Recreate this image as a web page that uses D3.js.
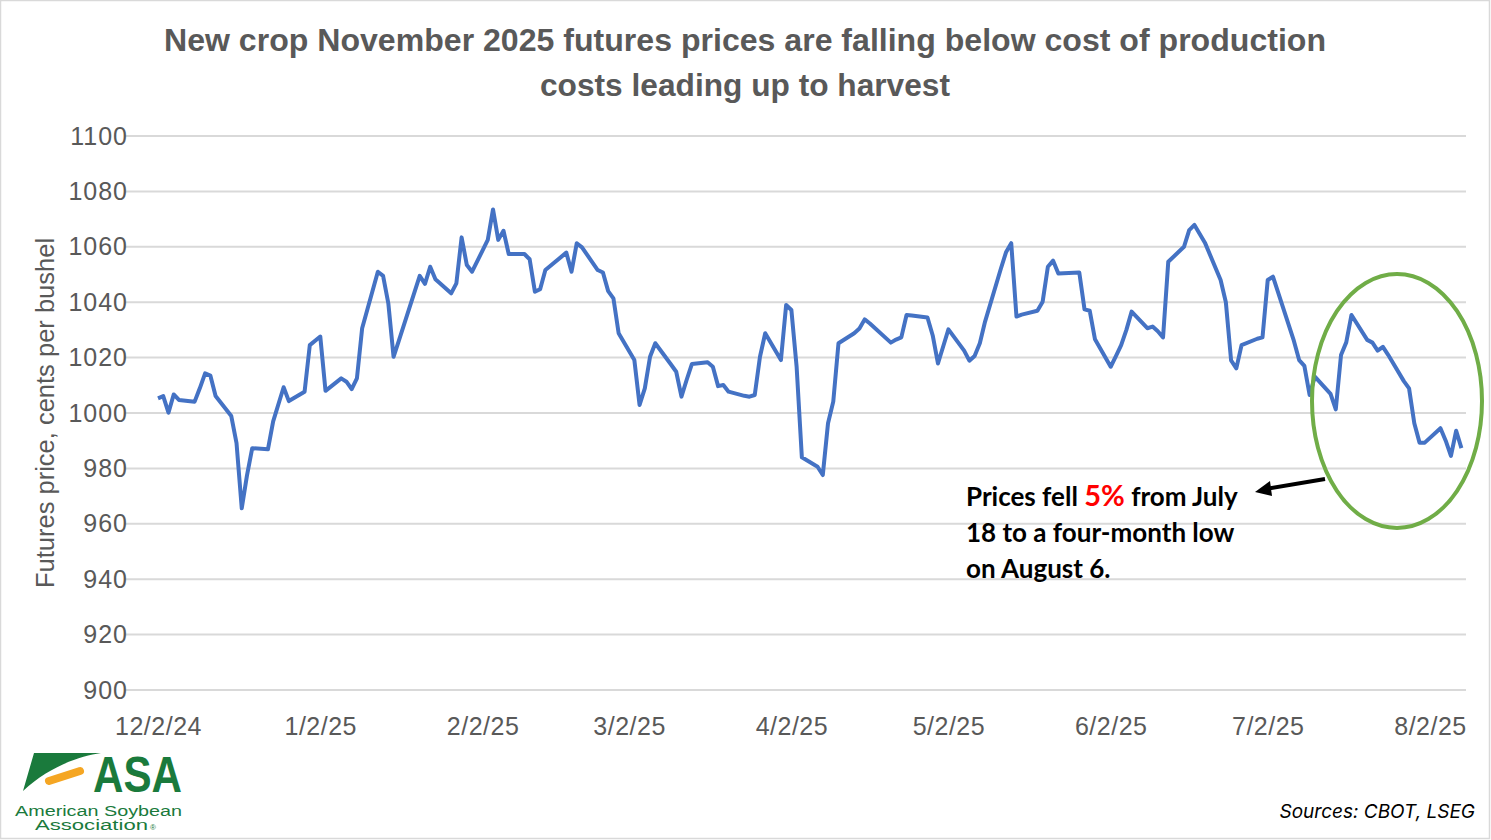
<!DOCTYPE html>
<html>
<head>
<meta charset="utf-8">
<title>New crop November 2025 futures</title>
<script src="https://cdnjs.cloudflare.com/ajax/libs/d3/7.8.5/d3.min.js"></script>
<style>
  body { margin: 0; background: #fff; }
  svg { display: block; }
</style>
</head>
<body>
<div id="chart"></div>
<script>
// trading dates (M/D/YY) and settle prices, cents per bushel
var dates = [
  "12/2/24","12/3/24","12/4/24","12/5/24","12/6/24","12/9/24","12/10/24","12/11/24","12/12/24","12/13/24",
  "12/16/24","12/17/24","12/18/24","12/19/24","12/20/24","12/23/24","12/24/24","12/26/24","12/27/24","12/30/24",
  "12/31/24","1/2/25","1/3/25","1/6/25","1/7/25","1/8/25","1/9/25","1/10/25","1/13/25","1/14/25",
  "1/15/25","1/16/25","1/17/25","1/21/25","1/22/25","1/23/25","1/24/25","1/27/25","1/28/25","1/29/25",
  "1/30/25","1/31/25","2/3/25","2/4/25","2/5/25","2/6/25","2/7/25","2/10/25","2/11/25","2/12/25",
  "2/13/25","2/14/25","2/18/25","2/19/25","2/20/25","2/21/25","2/24/25","2/25/25","2/26/25","2/27/25",
  "2/28/25","3/3/25","3/4/25","3/5/25","3/6/25","3/7/25","3/10/25","3/11/25","3/12/25","3/13/25",
  "3/14/25","3/17/25","3/18/25","3/19/25","3/20/25","3/21/25","3/24/25","3/25/25","3/26/25","3/27/25",
  "3/28/25","3/31/25","4/1/25","4/2/25","4/3/25","4/4/25","4/7/25","4/8/25","4/9/25","4/10/25",
  "4/11/25","4/14/25","4/15/25","4/16/25","4/17/25","4/21/25","4/22/25","4/23/25","4/24/25","4/25/25",
  "4/28/25","4/29/25","4/30/25","5/1/25","5/2/25","5/5/25","5/6/25","5/7/25","5/8/25","5/9/25",
  "5/12/25","5/13/25","5/14/25","5/15/25","5/16/25","5/19/25","5/20/25","5/21/25","5/22/25","5/23/25",
  "5/27/25","5/28/25","5/29/25","5/30/25","6/2/25","6/3/25","6/4/25","6/5/25","6/6/25","6/9/25",
  "6/10/25","6/11/25","6/12/25","6/13/25","6/16/25","6/17/25","6/18/25","6/20/25","6/23/25","6/24/25",
  "6/25/25","6/26/25","6/27/25","6/30/25","7/1/25","7/2/25","7/3/25","7/7/25","7/8/25","7/9/25",
  "7/10/25","7/11/25","7/14/25","7/15/25","7/16/25","7/17/25","7/18/25","7/21/25","7/22/25","7/23/25",
  "7/24/25","7/25/25","7/28/25","7/29/25","7/30/25","7/31/25","8/1/25","8/4/25","8/5/25","8/6/25",
  "8/7/25","8/8/25"
];
var prices = [
  1005.3,1006.1,1000.1,1006.7,1004.7,1004.1,1009.0,1014.3,1013.5,1006.1,
  998.9,989.1,965.6,977.5,987.3,986.9,997.0,1009.3,1004.3,1007.7,
  1024.5,1027.6,1008.0,1012.5,1011.3,1008.6,1012.5,1030.6,1051.0,1049.5,
  1039.6,1020.3,1026.0,1049.5,1046.6,1052.8,1048.3,1043.2,1046.8,1063.4,
  1053.4,1051.0,1062.5,1073.5,1062.5,1065.8,1057.4,1057.4,1055.5,1043.8,
  1044.7,1051.6,1057.9,1051.0,1061.3,1059.8,1051.6,1050.7,1044.0,1041.4,
  1028.8,1019.1,1002.9,1008.9,1020.3,1025.2,1017.5,1014.9,1005.9,1012.0,
  1017.7,1018.3,1016.7,1009.7,1010.1,1007.7,1006.2,1005.9,1006.5,1020.3,
  1028.8,1019.1,1039.0,1037.2,1016.7,984.0,980.6,977.6,996.3,1004.1,
  1025.2,1028.8,1030.5,1033.8,1032.3,1025.4,1026.5,1027.3,1035.4,1035.2,
  1034.5,1028.0,1017.9,1024.0,1030.2,1022.5,1018.9,1020.6,1025.2,1033.0,
  1052.0,1058.0,1061.3,1034.8,1035.5,1036.9,1040.2,1052.8,1055.0,1050.4,
  1050.7,1037.4,1036.9,1026.6,1016.7,1020.5,1024.5,1030.0,1036.6,1030.6,
  1031.2,1029.5,1027.3,1054.6,1060.0,1066.0,1067.9,1061.5,1048.0,1040.0,
  1019.0,1016.1,1024.5,1026.8,1027.3,1048.0,1049.2,1026.0,1019.1,1017.0,
  1006.5,1013.1,1006.9,1001.3,1020.9,1025.5,1035.4,1026.4,1025.4,1022.5,
  1023.9,1021.0,1011.5,1008.9,996.3,989.3,989.3,994.5,990.0,984.5,
  993.6,987.3
];
var xTickLabels = ["12/2/24","1/2/25","2/2/25","3/2/25","4/2/25","5/2/25","6/2/25","7/2/25","8/2/25"];
var yTicks = [900,920,940,960,980,1000,1020,1040,1060,1080,1100];

var W = 1491, H = 840;
var parseDate = d3.timeParse("%-m/%-d/%y");
var fmt = function(d) { return (d.getMonth()+1) + "/" + d.getDate() + "/" + String(d.getFullYear()).slice(2); };

var data = dates.map(function(d, i) { return { date: parseDate(d), value: prices[i] }; });

var svg = d3.select("#chart").append("svg").attr("width", W).attr("height", H);

// outer frame
svg.append("rect").attr("x", 0.5).attr("y", 0.5).attr("width", W - 2).attr("height", H - 2)
  .attr("fill", "#fff").attr("stroke", "#d9d9d9").attr("stroke-width", 1.5);

var plotL = 125, plotR = 1466;
var x = d3.scaleTime()
  .domain([parseDate("12/2/24"), parseDate("8/2/25")])
  .range([158, 1430]);
var y = d3.scaleLinear().domain([900, 1100]).range([690, 136]);

// gridlines
svg.append("g").selectAll("line").data(yTicks).enter().append("line")
  .attr("x1", plotL).attr("x2", plotR)
  .attr("y1", function(d) { return y(d); }).attr("y2", function(d) { return y(d); })
  .attr("stroke", "#d9d9d9").attr("stroke-width", 2);

var axisFont = "'Liberation Sans', Arial, sans-serif";

// y axis
var yAxis = svg.append("g").attr("transform", "translate(" + plotL + ",0)")
  .call(d3.axisLeft(y).tickValues(yTicks).tickSize(0).tickPadding(0).tickFormat(d3.format("d")));
yAxis.select(".domain").remove();
yAxis.selectAll("text").attr("x", 3)
  .style("font-family", axisFont).style("font-size", "25px").style("letter-spacing", "1px")
  .attr("fill", "#595959");

// x axis
var xAxis = svg.append("g").attr("transform", "translate(0,690)")
  .call(d3.axisBottom(x).tickValues(xTickLabels.map(parseDate)).tickSize(0).tickPadding(0).tickFormat(fmt));
xAxis.select(".domain").remove();
xAxis.selectAll("text").attr("y", 27).attr("dy", "0.71em")
  .style("font-family", axisFont).style("font-size", "25px").style("letter-spacing", "0.5px")
  .attr("fill", "#595959");

// y axis title
svg.append("text")
  .attr("transform", "translate(54,413) rotate(-90)")
  .attr("text-anchor", "middle")
  .style("font-family", axisFont).style("font-size", "25.5px")
  .attr("fill", "#595959")
  .text("Futures price, cents per bushel");

// title
var title = svg.append("text").attr("text-anchor", "middle")
  .style("font-family", "'Liberation Sans Narrow', 'Liberation Sans', Arial, sans-serif")
  .style("font-weight", "bold").style("font-size", "32px").attr("fill", "#595959");
title.append("tspan").attr("x", 745).attr("y", 51).attr("textLength", 1162).attr("lengthAdjust", "spacingAndGlyphs")
  .text("New crop November 2025 futures prices are falling below cost of production");
title.append("tspan").attr("x", 745).attr("y", 96).attr("textLength", 410).attr("lengthAdjust", "spacingAndGlyphs")
  .text("costs leading up to harvest");

// price line
var line = d3.line().x(function(d) { return x(d.date); }).y(function(d) { return y(d.value); });
svg.append("path").datum(data)
  .attr("d", line).attr("fill", "none")
  .attr("stroke", "#4472C4").attr("stroke-width", 4).attr("stroke-linejoin", "round");

// highlight ellipse
svg.append("ellipse").attr("cx", 1397).attr("cy", 401).attr("rx", 85).attr("ry", 127)
  .attr("fill", "none").attr("stroke", "#70AD47").attr("stroke-width", 4);

// arrow
svg.append("path").attr("d", "M1325,479 L1266,489")
  .attr("stroke", "#000").attr("stroke-width", 4);
svg.append("path").attr("d", "M1255,492 L1270,481 L1272,496 Z").attr("fill", "#000");

// annotation
var ann = svg.append("text")
  .style("font-family", "Lato, 'Liberation Sans', sans-serif").style("font-weight", "bold")
  .style("font-size", "26px").attr("fill", "#000");
var l1 = ann.append("tspan").attr("x", 966).attr("y", 506);
l1.append("tspan").text("Prices fell ");
l1.append("tspan").attr("fill", "#FF0000").style("font-size", "29px").text("5%");
l1.append("tspan").text(" from July");
ann.append("tspan").attr("x", 966).attr("y", 542).text("18 to a four-month low");
ann.append("tspan").attr("x", 966).attr("y", 578).text("on August 6.");

// sources
svg.append("text").attr("x", 1475).attr("y", 818).attr("text-anchor", "end")
  .style("font-family", "Inter, 'Liberation Sans', sans-serif").style("font-style", "italic")
  .style("font-size", "19px").attr("fill", "#000").text("Sources: CBOT, LSEG");

// ASA logo
var logo = svg.append("g");
logo.append("path").attr("d", "M34,753 L101,753 C80,756 50,766 23,791 Z").attr("fill", "#1a7a3c");
logo.append("path").attr("d", "M49,781 L80,771").attr("stroke", "#F5A623")
  .attr("stroke-width", 8).attr("stroke-linecap", "round");
logo.append("text").attr("x", 93).attr("y", 792).attr("textLength", 89).attr("lengthAdjust", "spacingAndGlyphs")
  .style("font-family", "'Liberation Sans', Arial, sans-serif").style("font-weight", "bold")
  .style("font-size", "50px").attr("fill", "#1a7a3c").text("ASA");
logo.append("text").attr("x", 15).attr("y", 816).attr("textLength", 167).attr("lengthAdjust", "spacingAndGlyphs")
  .style("font-family", "'Liberation Sans', Arial, sans-serif")
  .style("font-size", "14px").attr("fill", "#1a7a3c").text("American Soybean");
logo.append("text").attr("x", 35).attr("y", 830).attr("textLength", 113).attr("lengthAdjust", "spacingAndGlyphs")
  .style("font-family", "'Liberation Sans', Arial, sans-serif")
  .style("font-size", "14px").attr("fill", "#1a7a3c").text("Association");
logo.append("text").attr("x", 150).attr("y", 830)
  .style("font-family", "'Liberation Sans', Arial, sans-serif")
  .style("font-size", "8px").attr("fill", "#1a7a3c").text("®");
</script>
</body>
</html>
